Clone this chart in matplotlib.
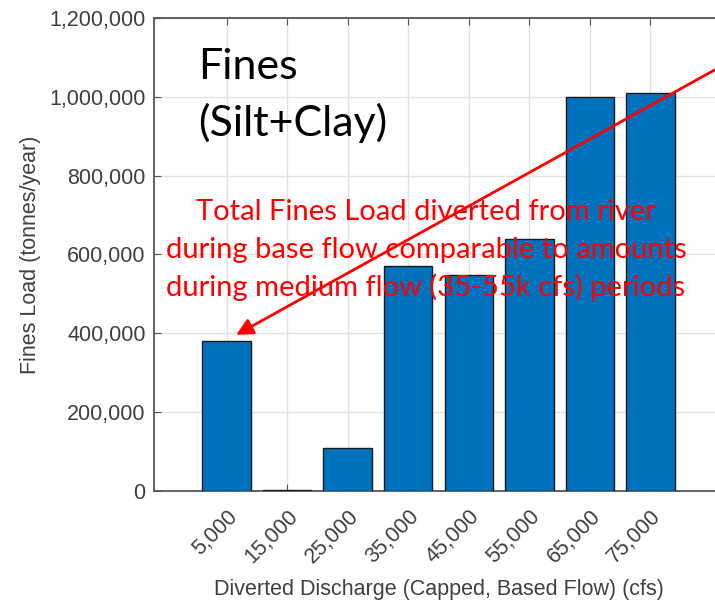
import numpy as np
import matplotlib.pyplot as plt

# diverted discharge classes (cfs) and fines load (tonnes/year)
discharge = ['5,000', '15,000', '25,000', '35,000', '45,000', '55,000', '65,000', '75,000']
fines_load = [380000, 3000, 110000, 572000, 548000, 640000, 1000000, 1010000]
yticks = [0, 200000, 400000, 600000, 800000, 1000000, 1200000]

title_lines = ['Fines', '(Silt+Clay)']
note_lines = ['Total Fines Load diverted from river',
              'during base flow comparable to amounts',
              'during medium flow (35-55k cfs) periods']

gray = '#404040'
fig = plt.figure(figsize=(7.15, 6.0), dpi=100)
ax = fig.add_axes([0.2154, 0.1817, 0.7958, 0.7883])

x = np.arange(len(discharge))
ax.bar(x, fines_load, width=0.8, color='#0072BD', edgecolor='#1a1a1a', linewidth=1.0, zorder=3)

ax.set_xlim(-1.2, 8.2)
ax.set_ylim(0, 1200000)
ax.set_xticks(x)
ax.set_xticklabels(discharge, rotation=45, ha='right', va='top', rotation_mode='anchor',
                   fontsize=15.5, color=gray, family='Liberation Sans')
ax.set_yticks(yticks)
ax.set_yticklabels([f'{v:,}' for v in yticks], fontsize=15.5, color=gray, family='Liberation Sans')
ax.tick_params(direction='in', length=5, color='#555555', top=True, right=True, pad=6)
ax.tick_params(axis='x', pad=11)
ax.grid(True, color='#e2e2e2', linewidth=1.0, zorder=0)
ax.set_axisbelow(True)
for s in ax.spines.values():
    s.set_color('#555555')
    s.set_linewidth(1.3)

ax.set_xlabel('Diverted Discharge (Capped, Based Flow) (cfs)', fontsize=15.5, color=gray,
              family='Liberation Sans', labelpad=8)
ax.set_ylabel('Fines Load (tonnes/year)', fontsize=15.5, color=gray, family='Liberation Sans', labelpad=6)

# annotations
for i, line in enumerate(title_lines):
    fig.text(198 / 715, 1 - (79 + 57 * i) / 600, line, fontsize=31, family='Lato', color='black',
             ha='left', va='baseline')
for i, line in enumerate(note_lines):
    fig.text(426 / 715, 1 - (220 + 38 * i) / 600, line, fontsize=21, family='Lato', color='red',
             ha='center', va='baseline')
ax.annotate('', xy=(0.157, 396000), xytext=(8.2, 1080000), annotation_clip=False,
            arrowprops=dict(arrowstyle='-|>', color='red', lw=2, mutation_scale=25, shrinkA=0, shrinkB=0))

fig.savefig('out.png', dpi=100)
